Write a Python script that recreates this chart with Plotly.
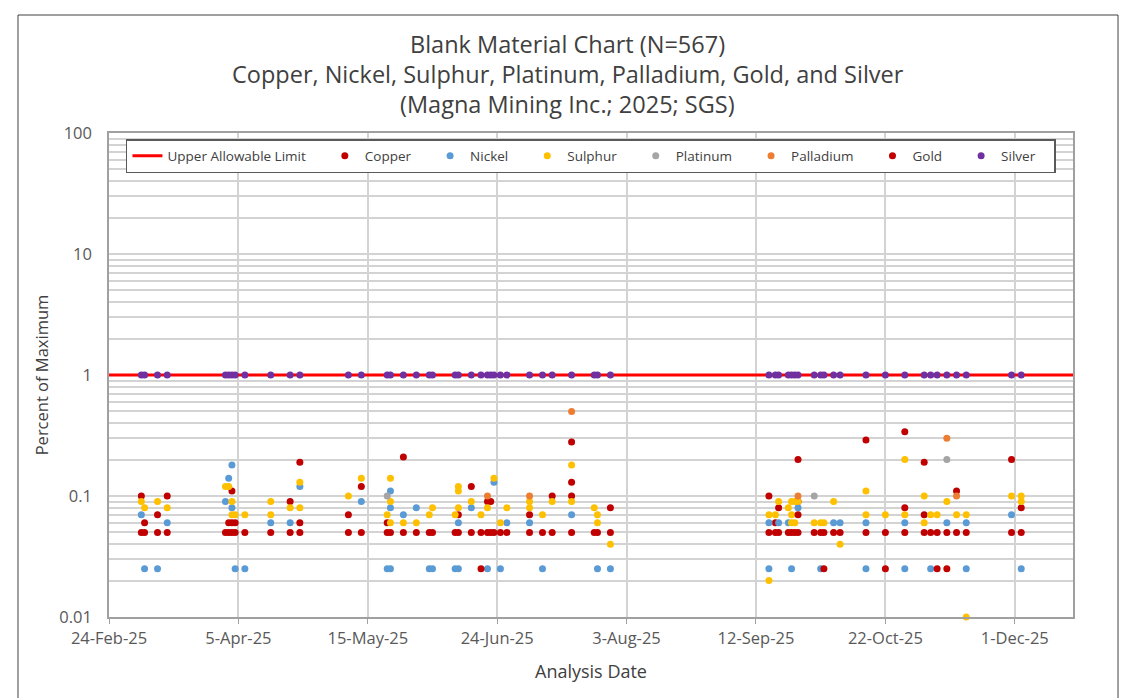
import plotly.graph_objects as go

# sample batch dates (one silver / copper result per batch)
batch_dates = ["2025-03-06", "2025-03-07", "2025-03-11", "2025-03-14",
               "2025-04-01", "2025-04-02", "2025-04-03", "2025-04-04", "2025-04-07", "2025-04-15", "2025-04-21", "2025-04-24",
               "2025-05-09", "2025-05-13", "2025-05-21", "2025-05-22", "2025-05-26", "2025-05-30",
               "2025-06-03", "2025-06-04", "2025-06-11", "2025-06-12", "2025-06-16", "2025-06-19", "2025-06-21",
               "2025-06-22", "2025-06-23", "2025-06-25", "2025-06-27",
               "2025-07-04", "2025-07-08", "2025-07-11", "2025-07-17", "2025-07-24", "2025-07-25", "2025-07-29",
               "2025-09-16", "2025-09-18", "2025-09-19", "2025-09-22", "2025-09-23", "2025-09-24", "2025-09-25", "2025-09-30",
               "2025-10-02", "2025-10-03", "2025-10-06", "2025-10-08", "2025-10-16", "2025-10-22", "2025-10-28",
               "2025-11-03", "2025-11-05", "2025-11-07", "2025-11-10", "2025-11-13", "2025-11-16", "2025-11-30",
               "2025-12-03"]

copper_values = [0.1, 0.06, 0.07, 0.1,
                 0.05, 0.06, 0.11, 0.06, 0.05, 0.05, 0.09, 0.06,
                 0.07, 0.12, 0.06, 0.05, 0.05, 0.05,
                 0.05, 0.05, 0.05, 0.07, 0.12, 0.05, 0.09, 0.09, 0.05, 0.05, 0.05,
                 0.07, 0.05, 0.1, 0.1, 0.05, 0.05, 0.08,
                 0.1, 0.06, 0.08, 0.05, 0.05, 0.05, 0.09, 0.05,
                 0.05, 0.05, 0.05, 0.05, 0.05, 0.05, 0.08,
                 0.07, 0.05, 0.05, 0.05, 0.11, 0.05, 0.05,
                 0.08]

silver_values = [1, 1, 1, 1,
                 1, 1, 1, 1, 1, 1, 1, 1,
                 1, 1, 1, 1, 1, 1,
                 1, 1, 1, 1, 1, 1, 1, 1, 1, 1, 1,
                 1, 1, 1, 1, 1, 1, 1,
                 1, 1, 1, 1, 1, 1, 1, 1,
                 1, 1, 1, 1, 1, 1, 1,
                 1, 1, 1, 1, 1, 1, 1,
                 1]

gold_dates = ["2025-03-06", "2025-03-07", "2025-03-11", "2025-03-14", "2025-04-02", "2025-04-03", "2025-04-03",
              "2025-04-04", "2025-04-21", "2025-04-24", "2025-04-24", "2025-05-09", "2025-05-13", "2025-05-21",
              "2025-05-26", "2025-06-12", "2025-06-16", "2025-06-19", "2025-06-21", "2025-06-22", "2025-07-04",
              "2025-07-11", "2025-07-17", "2025-07-17", "2025-07-17", "2025-07-29", "2025-09-16", "2025-09-18",
              "2025-09-19", "2025-09-25", "2025-09-25", "2025-09-25", "2025-10-03", "2025-10-16", "2025-10-22",
              "2025-10-28", "2025-10-28", "2025-11-03", "2025-11-03", "2025-11-07", "2025-11-10", "2025-11-13",
              "2025-11-30", "2025-12-03"]
gold_values = [0.05, 0.05, 0.05, 0.05, 0.05, 0.06, 0.05,
               0.05, 0.05, 0.19, 0.05, 0.05, 0.05, 0.05,
               0.21, 0.05, 0.05, 0.025, 0.05, 0.05, 0.05,
               0.05, 0.28, 0.13, 0.05, 0.05, 0.05, 0.05,
               0.05, 0.2, 0.07, 0.05, 0.025, 0.29, 0.025,
               0.34, 0.05, 0.19, 0.05, 0.025, 0.025, 0.05,
               0.2, 0.05]

nickel_dates = ["2025-03-06", "2025-03-07", "2025-03-11", "2025-03-14", "2025-04-01", "2025-04-02", "2025-04-03",
                "2025-04-03", "2025-04-04", "2025-04-07", "2025-04-15", "2025-04-21", "2025-04-24", "2025-05-13",
                "2025-05-21", "2025-05-22", "2025-05-22", "2025-05-22", "2025-05-26", "2025-05-30", "2025-06-03",
                "2025-06-04", "2025-06-11", "2025-06-12", "2025-06-12", "2025-06-16", "2025-06-21", "2025-06-23",
                "2025-06-25", "2025-06-27", "2025-07-04", "2025-07-08", "2025-07-17", "2025-07-25", "2025-07-29",
                "2025-09-16", "2025-09-16", "2025-09-19", "2025-09-22", "2025-09-23", "2025-09-25", "2025-10-02",
                "2025-10-06", "2025-10-08", "2025-10-16", "2025-10-16", "2025-10-28", "2025-10-28", "2025-11-05",
                "2025-11-10", "2025-11-16", "2025-11-16", "2025-11-30", "2025-12-03"]
nickel_values = [0.07, 0.025, 0.025, 0.06, 0.09, 0.14, 0.18,
                 0.08, 0.025, 0.025, 0.06, 0.06, 0.12, 0.09,
                 0.025, 0.11, 0.08, 0.025, 0.07, 0.08, 0.025,
                 0.025, 0.025, 0.06, 0.025, 0.08, 0.025, 0.13,
                 0.025, 0.06, 0.06, 0.025, 0.07, 0.025, 0.025,
                 0.06, 0.025, 0.06, 0.06, 0.025, 0.08, 0.025,
                 0.06, 0.06, 0.06, 0.025, 0.06, 0.025, 0.025,
                 0.06, 0.06, 0.025, 0.07, 0.025]

sulphur_dates = ["2025-03-06", "2025-03-07", "2025-03-11", "2025-03-14", "2025-04-01", "2025-04-02", "2025-04-03",
                 "2025-04-03", "2025-04-04", "2025-04-07", "2025-04-15", "2025-04-15", "2025-04-21", "2025-04-24",
                 "2025-04-24", "2025-05-09", "2025-05-13", "2025-05-21", "2025-05-22", "2025-05-22", "2025-05-22",
                 "2025-05-26", "2025-05-30", "2025-06-03", "2025-06-04", "2025-06-11", "2025-06-12", "2025-06-12",
                 "2025-06-12", "2025-06-16", "2025-06-19", "2025-06-21", "2025-06-23", "2025-06-25", "2025-06-27",
                 "2025-07-04", "2025-07-04", "2025-07-08", "2025-07-11", "2025-07-17", "2025-07-17", "2025-07-24",
                 "2025-07-25", "2025-07-25", "2025-07-29", "2025-09-16", "2025-09-16", "2025-09-18", "2025-09-19",
                 "2025-09-22", "2025-09-23", "2025-09-23", "2025-09-23", "2025-09-24", "2025-09-24", "2025-09-25",
                 "2025-09-30", "2025-10-02", "2025-10-03", "2025-10-06", "2025-10-08", "2025-10-16", "2025-10-16",
                 "2025-10-22", "2025-10-28", "2025-10-28", "2025-11-03", "2025-11-03", "2025-11-05", "2025-11-07",
                 "2025-11-10", "2025-11-13", "2025-11-16", "2025-11-16", "2025-11-30", "2025-12-03", "2025-12-03"]
sulphur_values = [0.09, 0.08, 0.09, 0.08, 0.12, 0.12, 0.09,
                  0.07, 0.07, 0.07, 0.09, 0.07, 0.08, 0.13,
                  0.08, 0.1, 0.14, 0.07, 0.14, 0.09, 0.06,
                  0.06, 0.06, 0.07, 0.08, 0.07, 0.12, 0.11,
                  0.08, 0.09, 0.07, 0.08, 0.14, 0.06, 0.08,
                  0.09, 0.08, 0.07, 0.09, 0.18, 0.09, 0.08,
                  0.07, 0.06, 0.04, 0.07, 0.02, 0.07, 0.09,
                  0.08, 0.09, 0.07, 0.06, 0.09, 0.06, 0.09,
                  0.06, 0.06, 0.06, 0.09, 0.04, 0.11, 0.07,
                  0.07, 0.2, 0.07, 0.1, 0.06, 0.07, 0.07,
                  0.09, 0.07, 0.07, 0.01, 0.1, 0.1, 0.09]

platinum_dates = ["2025-05-21", "2025-09-30", "2025-11-10"]
platinum_values = [0.1, 0.1, 0.2]

palladium_dates = ["2025-06-21", "2025-07-04", "2025-07-17", "2025-09-25", "2025-11-10", "2025-11-13"]
palladium_values = [0.1, 0.1, 0.5, 0.1, 0.3, 0.1]

upper_limit = 1
x_start, x_end = "2025-02-24", "2025-12-19"
tick_dates = ["2025-02-24", "2025-04-05", "2025-05-15", "2025-06-24",
              "2025-08-03", "2025-09-12", "2025-10-22", "2025-12-01"]

FONT = "Open Sans"
pad = "\u00a0" * 4

fig = go.Figure()
fig.add_trace(go.Scatter(x=[x_start, x_end], y=[upper_limit, upper_limit], mode="lines",
                         line=dict(color="#FF0000", width=3), name="Upper Allowable Limit" + pad))

series = [
    ("Copper", batch_dates, copper_values, "#C00000"),
    ("Nickel", nickel_dates, nickel_values, "#5B9BD5"),
    ("Sulphur", sulphur_dates, sulphur_values, "#FFC000"),
    ("Platinum", platinum_dates, platinum_values, "#A5A5A5"),
    ("Palladium", palladium_dates, palladium_values, "#ED7D31"),
    ("Gold", gold_dates, gold_values, "#C00000"),
    ("Silver", batch_dates, silver_values, "#7030A0"),
]
for name, xs, ys, color in series:
    fig.add_trace(go.Scatter(x=xs, y=ys, mode="markers", name=name + pad, cliponaxis=False,
                             marker=dict(color=color, size=7)))

titles = ["Blank Material Chart (N=567)",
          "Copper, Nickel, Sulphur, Platinum, Palladium, Gold, and Silver",
          "(Magna Mining Inc.; 2025; SGS)"]
for i, t in enumerate(titles):
    fig.add_annotation(text=t, xref="paper", yref="paper", x=0.4761, y=1.1839 - i * 0.062,
                       showarrow=False, xanchor="center", yanchor="middle",
                       font=dict(family=FONT, size=23.5, color="#404040"))

# chart area border
fig.add_shape(type="rect", xref="paper", yref="paper", x0=-0.0944, x1=1.0467, y0=-0.2, y1=1.2438,
              line=dict(color="#404040", width=1), layer="below")

# page body has an 8px margin, so the figure is 8px smaller than the window
fig.update_layout(
    width=1122, height=690,
    margin=dict(l=101, r=57, t=125, b=81),
    paper_bgcolor="white", plot_bgcolor="white",
    font=dict(family=FONT, color="#595959"),
    showlegend=True,
    legend=dict(orientation="h", x=0.0176, y=0.9876, xanchor="left", yanchor="top",
                bgcolor="white", bordercolor="#595959", borderwidth=1.5,
                font=dict(family=FONT, size=13.5, color="#404040")),
    xaxis=dict(type="date", range=[x_start, x_end], tickmode="array", tickvals=tick_dates,
               tickformat="%-d-%b-%y", ticks="outside", ticklen=5, tickcolor="#A0A0A0",
               showline=True, linecolor="#A0A0A0", linewidth=1.5, mirror=True,
               showgrid=True, gridcolor="#D3D3D3", gridwidth=2, zeroline=False,
               tickfont=dict(size=16.5, color="#595959"),
               title=dict(text="Analysis Date", font=dict(size=18, color="#404040"), standoff=18)),
    yaxis=dict(type="log", range=[-2, 2], dtick=1, tickformat="~g",
               showline=True, linecolor="#A0A0A0", linewidth=1.5, mirror=True,
               showgrid=True, gridcolor="#D3D3D3", gridwidth=2, zeroline=False,
               minor=dict(dtick="D1", showgrid=True, gridcolor="#D3D3D3", gridwidth=1.5),
               ticklabelstandoff=12,
               tickfont=dict(size=16.5, color="#595959"),
               title=dict(text="Percent of Maximum", font=dict(size=16.5, color="#404040"), standoff=7)),
)

fig.write_html("out.html")
